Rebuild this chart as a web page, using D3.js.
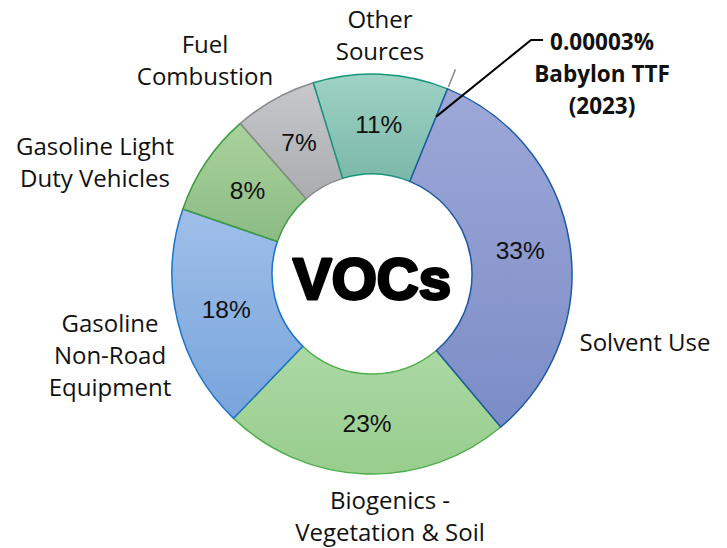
<!DOCTYPE html>
<html>
<head>
<meta charset="utf-8">
<script src="https://cdn.jsdelivr.net/npm/d3@7"></script>
<style>
  html, body { margin: 0; padding: 0; background: #fff; }
  svg { display: block; }
</style>
</head>
<body>
<svg id="chart"></svg>
<script>
// Chart data
const categories = [
    "Babylon TTF (2023)",
    "Solvent Use",
    "Biogenics - Vegetation & Soil",
    "Gasoline Non-Road Equipment",
    "Gasoline Light Duty Vehicles",
    "Fuel Combustion",
    "Other Sources",
];
const shares = [0.00003, 32.7, 23.3, 18.1, 8.3, 6.7, 10.9];
const labelLines = [
    ["0.00003%", "Babylon TTF", "(2023)"],
    ["Solvent Use"],
    ["Biogenics -", "Vegetation & Soil"],
    ["Gasoline", "Non-Road", "Equipment"],
    ["Gasoline Light", "Duty Vehicles"],
    ["Fuel", "Combustion"],
    ["Other", "Sources"],
];
const centerTitle = "VOCs";

// Styling per slice: [top colour, bottom colour, stroke]
const sliceColors = [
    ["#b0b0b0", "#b0b0b0", "#8c8c8c"],
    ["#9da8d8", "#7b8cc6", "#1d5aa0"],
    ["#abd9a5", "#98cd8d", "#4daf4a"],
    ["#9fbfe9", "#78a4db", "#1a73c9"],
    ["#a9d29c", "#8cbb84", "#3e9b3e"],
    ["#c6c8cb", "#aaacb0", "#8a8a8a"],
    ["#9ed2c4", "#7bb8aa", "#16957c"],
];
// Label block centres, relative to the donut centre
const labelOffsets = [
    [230, -200], [273, 69], [18, 243], [-262, 82], [-277, -111], [-167, -213], [8, -238],
];

const width = 727;
const height = 548;
const cx = 372;
const cy = 274;
const outerR = 200;
const innerR = 100;
const lineH = 32;

const svg = d3.select("#chart").attr("width", width).attr("height", height);

const startDeg = 22.2;
const pie = d3.pie()
    .sort(null)
    .startAngle((startDeg - 0.001) * Math.PI / 180)
    .endAngle((startDeg - 0.001 + 360) * Math.PI / 180);

const data = categories.map((c, i) => ({ name: c, value: shares[i], i }));
const arcs = pie.value((d) => d.value)(data);

const arc = d3.arc().innerRadius(innerR).outerRadius(outerR);
const labelArc = d3.arc().innerRadius(150).outerRadius(150);

// Vertical gradients
const defs = svg.append("defs");
sliceColors.forEach((c, i) => {
    const g = defs.append("linearGradient")
        .attr("id", "grad" + i)
        .attr("x1", 0).attr("y1", 0).attr("x2", 0).attr("y2", 1);
    g.append("stop").attr("offset", "0%").attr("stop-color", c[0]);
    g.append("stop").attr("offset", "100%").attr("stop-color", c[1]);
});

const g = svg.append("g").attr("transform", `translate(${cx},${cy})`);

// Slices
const slices = g.append("g").selectAll("path")
    .data(arcs)
    .join("path")
    .attr("d", arc)
    .attr("fill", (d) => `url(#grad${d.data.i})`)
    .attr("stroke", (d) => sliceColors[d.data.i][2])
    .attr("stroke-width", 1.5)
    .attr("stroke-linejoin", "round");
// solvent use outline sits on top like in the original
slices.filter((d) => d.data.i === 1).raise();

// Percent labels
g.append("g").selectAll("text")
    .data(arcs.filter((d) => d.data.value >= 1))
    .join("text")
    .attr("transform", (d) => `translate(${labelArc.centroid(d)})`)
    .attr("text-anchor", "middle")
    .attr("dominant-baseline", "central")
    .style("font-family", "'Liberation Sans', Arial, sans-serif")
    .style("font-size", "24.5px")
    .attr("fill", "#111")
    .text((d) => Math.round(d.data.value) + "%");

// Category labels
const labels = g.append("g").selectAll("text")
    .data(arcs)
    .join("text")
    .attr("text-anchor", "middle")
    .style("font-family", "'Open Sans', sans-serif")
    .style("font-size", (d) => d.data.i === 0 ? "22.5px" : "24px")
    .style("font-weight", (d) => d.data.i === 0 ? "700" : "400")
    .attr("fill", "#111");

labels.each(function (d) {
    const lines = labelLines[d.data.i];
    const [ox, oy] = labelOffsets[d.data.i];
    const y0 = oy - (lines.length - 1) * lineH / 2;
    d3.select(this).selectAll("tspan")
        .data(lines)
        .join("tspan")
        .attr("x", ox)
        .attr("y", (l, k) => y0 + k * lineH)
        .attr("dy", "0.35em")
        .text((l) => l);
});

// Leader line of the tiny slice (grey, radial)
const tiny = arcs[0];
const tinyAngle = (tiny.startAngle + tiny.endAngle) / 2;
const polar = (r, a) => [r * Math.sin(a), -r * Math.cos(a)];
g.append("line")
    .attr("x1", polar(outerR + 2, tinyAngle)[0])
    .attr("y1", polar(outerR + 2, tinyAngle)[1])
    .attr("x2", polar(outerR + 21, tinyAngle)[0])
    .attr("y2", polar(outerR + 21, tinyAngle)[1])
    .attr("stroke", "#8c8c8c")
    .attr("stroke-width", 1.5);

// Black callout to the Babylon TTF label
const firstSpan = labels.filter((d) => d.data.i === 0).select("tspan").node();
const labelLeft = labelOffsets[0][0] - firstSpan.getComputedTextLength() / 2;
const firstLineY = labelOffsets[0][1] - lineH;
const calloutStart = polar(170, tinyAngle);
g.append("path")
    .attr("d", d3.line()([
        calloutStart,
        [labelLeft - 19, firstLineY - 2],
        [labelLeft - 7, firstLineY - 2],
    ]))
    .attr("fill", "none")
    .attr("stroke", "#000")
    .attr("stroke-width", 2);

// Centre title
g.append("text")
    .attr("x", 0)
    .attr("y", 4)
    .attr("text-anchor", "middle")
    .attr("dominant-baseline", "central")
    .style("font-family", "'Liberation Sans', Arial, sans-serif")
    .style("font-size", "58px")
    .style("font-weight", "700")
    .attr("fill", "#000")
    .attr("stroke", "#000")
    .attr("stroke-width", 3)
    .attr("stroke-linejoin", "round")
    .text(centerTitle);
</script>
</body>
</html>
